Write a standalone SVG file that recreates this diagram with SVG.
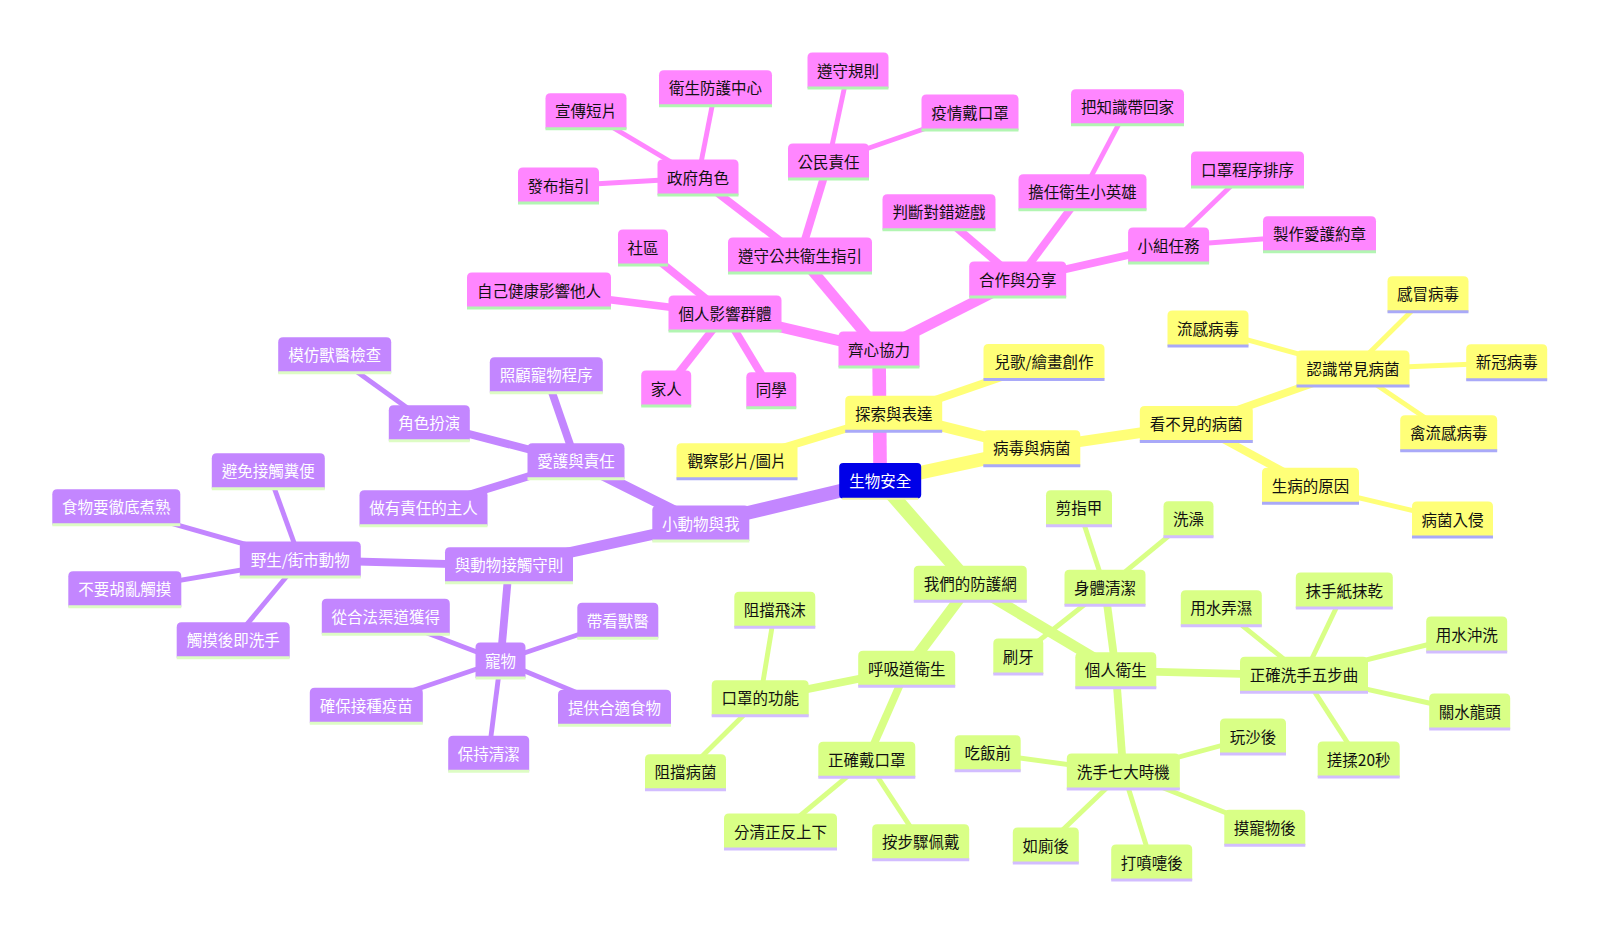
<svg xmlns="http://www.w3.org/2000/svg" width="1600" height="933" viewBox="0 0 1600 933">
<style>
.bg{fill:#ffffff}
#connectors line{fill:none;stroke-linecap:butt}
.e1{stroke-width:13.6}.e2{stroke-width:10.7}.e3{stroke-width:7.8}.e4{stroke-width:4.9}
.cp{stroke:#ff86ff}.cy{stroke:#ffff78}.cu{stroke:#c386ff}.cg{stroke:#d9ff86}
.node text{font-family:"Noto Sans CJK TC","Noto Sans CJK SC",sans-serif;font-size:15.5px;text-anchor:middle}
.node line{stroke-width:3}
.p path{fill:#ff86ff}.p line{stroke:#b2f5b2}.p text{fill:#111}
.y path{fill:#ffff78}.y line{stroke:#a9a9f8}.y text{fill:#111}
.u path{fill:#c386ff}.u line{stroke:#ddfcc4}.u text{fill:#ffffff}
.g path{fill:#d9ff86}.g line{stroke:#d2bdff}.g text{fill:#111}
.root rect{fill:#0000e8}.root line{stroke:#f2f2a8;stroke-width:2}.root text{fill:#ffffff}
</style>
<rect class="bg" x="0" y="0" width="1600" height="933"/>
<g id="connectors">
<line class="e1 cp" x1="880.2" y1="481.3" x2="879" y2="350"/>
<line class="e1 cy" x1="880.2" y1="481.3" x2="1031.8" y2="448.7"/>
<line class="e1 cu" x1="880.2" y1="481.3" x2="700.8" y2="524"/>
<line class="e1 cg" x1="880.2" y1="481.3" x2="970.3" y2="584.2"/>
<line class="e2 cp" x1="879" y1="350" x2="800" y2="256"/>
<line class="e2 cp" x1="879" y1="350" x2="725" y2="314"/>
<line class="e2 cp" x1="879" y1="350" x2="1017.7" y2="280"/>
<line class="e3 cp" x1="800" y1="256" x2="698" y2="178"/>
<line class="e3 cp" x1="800" y1="256" x2="828.5" y2="162"/>
<line class="e4 cp" x1="698" y1="178" x2="586" y2="111.7"/>
<line class="e4 cp" x1="698" y1="178" x2="715.5" y2="88.7"/>
<line class="e4 cp" x1="698" y1="178" x2="558.5" y2="186"/>
<line class="e4 cp" x1="828.5" y1="162" x2="848" y2="71"/>
<line class="e4 cp" x1="828.5" y1="162" x2="970" y2="113"/>
<line class="e3 cp" x1="725" y1="314" x2="643" y2="248"/>
<line class="e3 cp" x1="725" y1="314" x2="539" y2="291"/>
<line class="e3 cp" x1="725" y1="314" x2="666.2" y2="389"/>
<line class="e3 cp" x1="725" y1="314" x2="771.3" y2="390.8"/>
<line class="e3 cp" x1="1017.7" y1="280" x2="939" y2="212.7"/>
<line class="e3 cp" x1="1017.7" y1="280" x2="1082.5" y2="192.7"/>
<line class="e3 cp" x1="1017.7" y1="280" x2="1168.6" y2="246"/>
<line class="e4 cp" x1="1082.5" y1="192.7" x2="1127.5" y2="107.7"/>
<line class="e4 cp" x1="1168.6" y1="246" x2="1247.5" y2="170"/>
<line class="e4 cp" x1="1168.6" y1="246" x2="1319.5" y2="234.7"/>
<line class="e2 cy" x1="1031.8" y1="448.7" x2="893.7" y2="414.2"/>
<line class="e2 cy" x1="1031.8" y1="448.7" x2="1196.3" y2="424.5"/>
<line class="e3 cy" x1="893.7" y1="414.2" x2="1044" y2="362.5"/>
<line class="e3 cy" x1="893.7" y1="414.2" x2="737" y2="461.7"/>
<line class="e3 cy" x1="1196.3" y1="424.5" x2="1353" y2="369"/>
<line class="e3 cy" x1="1196.3" y1="424.5" x2="1310.5" y2="486.3"/>
<line class="e4 cy" x1="1353" y1="369" x2="1208" y2="329"/>
<line class="e4 cy" x1="1353" y1="369" x2="1428" y2="294.7"/>
<line class="e4 cy" x1="1353" y1="369" x2="1506.7" y2="362.7"/>
<line class="e4 cy" x1="1353" y1="369" x2="1448.7" y2="433.7"/>
<line class="e4 cy" x1="1310.5" y1="486.3" x2="1452.5" y2="520"/>
<line class="e2 cu" x1="700.8" y1="524" x2="576" y2="461.7"/>
<line class="e2 cu" x1="700.8" y1="524" x2="509" y2="565.7"/>
<line class="e3 cu" x1="576" y1="461.7" x2="429.3" y2="423.7"/>
<line class="e3 cu" x1="576" y1="461.7" x2="546.3" y2="375.7"/>
<line class="e3 cu" x1="576" y1="461.7" x2="423.5" y2="508.7"/>
<line class="e4 cu" x1="429.3" y1="423.7" x2="334.7" y2="355.7"/>
<line class="e3 cu" x1="509" y1="565.7" x2="300.3" y2="560"/>
<line class="e3 cu" x1="509" y1="565.7" x2="500.5" y2="661"/>
<line class="e4 cu" x1="300.3" y1="560" x2="268.3" y2="471.7"/>
<line class="e4 cu" x1="300.3" y1="560" x2="116.3" y2="507.7"/>
<line class="e4 cu" x1="300.3" y1="560" x2="124.8" y2="589.7"/>
<line class="e4 cu" x1="300.3" y1="560" x2="233.2" y2="640.8"/>
<line class="e4 cu" x1="500.5" y1="661" x2="385.8" y2="617.3"/>
<line class="e4 cu" x1="500.5" y1="661" x2="617.8" y2="621.3"/>
<line class="e4 cu" x1="500.5" y1="661" x2="366.3" y2="706.3"/>
<line class="e4 cu" x1="500.5" y1="661" x2="614.5" y2="708.3"/>
<line class="e4 cu" x1="500.5" y1="661" x2="488.7" y2="754.3"/>
<line class="e2 cg" x1="970.3" y1="584.2" x2="906.7" y2="669.2"/>
<line class="e2 cg" x1="970.3" y1="584.2" x2="1115.8" y2="670.8"/>
<line class="e3 cg" x1="906.7" y1="669.2" x2="760.2" y2="698.7"/>
<line class="e3 cg" x1="906.7" y1="669.2" x2="866.8" y2="760.3"/>
<line class="e4 cg" x1="760.2" y1="698.7" x2="774.8" y2="610.3"/>
<line class="e4 cg" x1="760.2" y1="698.7" x2="685.5" y2="772.7"/>
<line class="e4 cg" x1="866.8" y1="760.3" x2="780.5" y2="832"/>
<line class="e4 cg" x1="866.8" y1="760.3" x2="920.7" y2="842.7"/>
<line class="e3 cg" x1="1115.8" y1="670.8" x2="1105" y2="588.3"/>
<line class="e3 cg" x1="1115.8" y1="670.8" x2="1304" y2="675.3"/>
<line class="e3 cg" x1="1115.8" y1="670.8" x2="1123.3" y2="772"/>
<line class="e4 cg" x1="1105" y1="588.3" x2="1079" y2="508.7"/>
<line class="e4 cg" x1="1105" y1="588.3" x2="1188.5" y2="519.7"/>
<line class="e4 cg" x1="1105" y1="588.3" x2="1018.3" y2="657"/>
<line class="e4 cg" x1="1304" y1="675.3" x2="1221.3" y2="608.7"/>
<line class="e4 cg" x1="1304" y1="675.3" x2="1344.3" y2="591"/>
<line class="e4 cg" x1="1304" y1="675.3" x2="1466.7" y2="635"/>
<line class="e4 cg" x1="1304" y1="675.3" x2="1469.7" y2="712"/>
<line class="e4 cg" x1="1304" y1="675.3" x2="1358.7" y2="760"/>
<line class="e4 cg" x1="1123.3" y1="772" x2="987.7" y2="753.7"/>
<line class="e4 cg" x1="1123.3" y1="772" x2="1253" y2="737"/>
<line class="e4 cg" x1="1123.3" y1="772" x2="1264.8" y2="828.3"/>
<line class="e4 cg" x1="1123.3" y1="772" x2="1151.7" y2="863"/>
<line class="e4 cg" x1="1123.3" y1="772" x2="1045.8" y2="846"/>
</g>

<g id="n-root" class="node root" transform="translate(839.2,463)"><rect x="0" y="0" width="82" height="35.5" rx="4"/><line x1="3" y1="35.8" x2="79" y2="35.8"/><text x="41" y="24">生物安全</text></g>

<g id="n-qixin" class="node p" transform="translate(838.5,331.5)"><path d="M0,35.5V5Q0,0 5,0H76Q81,0 81,5V35.5Z"/><line x1="0" y1="35.5" x2="81" y2="35.5"/><text x="40.5" y="24">齊心協力</text></g>
<g id="n-zunshou" class="node p" transform="translate(728,237.5)"><path d="M0,35.5V5Q0,0 5,0H139Q144,0 144,5V35.5Z"/><line x1="0" y1="35.5" x2="144" y2="35.5"/><text x="72" y="24">遵守公共衛生指引</text></g>
<g id="n-zhengfu" class="node p" transform="translate(657.5,159.5)"><path d="M0,35.5V5Q0,0 5,0H76Q81,0 81,5V35.5Z"/><line x1="0" y1="35.5" x2="81" y2="35.5"/><text x="40.5" y="24">政府角色</text></g>
<g id="n-xuanchuan" class="node p" transform="translate(545.5,93.2)"><path d="M0,35.5V5Q0,0 5,0H76Q81,0 81,5V35.5Z"/><line x1="0" y1="35.5" x2="81" y2="35.5"/><text x="40.5" y="24">宣傳短片</text></g>
<g id="n-weisheng" class="node p" transform="translate(659,70.2)"><path d="M0,35.5V5Q0,0 5,0H108Q113,0 113,5V35.5Z"/><line x1="0" y1="35.5" x2="113" y2="35.5"/><text x="56.5" y="24">衛生防護中心</text></g>
<g id="n-fabu" class="node p" transform="translate(518,167.5)"><path d="M0,35.5V5Q0,0 5,0H76Q81,0 81,5V35.5Z"/><line x1="0" y1="35.5" x2="81" y2="35.5"/><text x="40.5" y="24">發布指引</text></g>
<g id="n-gongmin" class="node p" transform="translate(788,143.5)"><path d="M0,35.5V5Q0,0 5,0H76Q81,0 81,5V35.5Z"/><line x1="0" y1="35.5" x2="81" y2="35.5"/><text x="40.5" y="24">公民責任</text></g>
<g id="n-guize" class="node p" transform="translate(807.5,52.5)"><path d="M0,35.5V5Q0,0 5,0H76Q81,0 81,5V35.5Z"/><line x1="0" y1="35.5" x2="81" y2="35.5"/><text x="40.5" y="24">遵守規則</text></g>
<g id="n-yiqing" class="node p" transform="translate(921.5,94.5)"><path d="M0,35.5V5Q0,0 5,0H92Q97,0 97,5V35.5Z"/><line x1="0" y1="35.5" x2="97" y2="35.5"/><text x="48.5" y="24">疫情戴口罩</text></g>
<g id="n-geren" class="node p" transform="translate(668.5,295.5)"><path d="M0,35.5V5Q0,0 5,0H108Q113,0 113,5V35.5Z"/><line x1="0" y1="35.5" x2="113" y2="35.5"/><text x="56.5" y="24">個人影響群體</text></g>
<g id="n-shequ" class="node p" transform="translate(618,229.5)"><path d="M0,35.5V5Q0,0 5,0H45Q50,0 50,5V35.5Z"/><line x1="0" y1="35.5" x2="50" y2="35.5"/><text x="25" y="24">社區</text></g>
<g id="n-ziji" class="node p" transform="translate(467,272.5)"><path d="M0,35.5V5Q0,0 5,0H139Q144,0 144,5V35.5Z"/><line x1="0" y1="35.5" x2="144" y2="35.5"/><text x="72" y="24">自己健康影響他人</text></g>
<g id="n-jiaren" class="node p" transform="translate(641.2,370.5)"><path d="M0,35.5V5Q0,0 5,0H45Q50,0 50,5V35.5Z"/><line x1="0" y1="35.5" x2="50" y2="35.5"/><text x="25" y="24">家人</text></g>
<g id="n-tongxue" class="node p" transform="translate(746.3,372.3)"><path d="M0,35.5V5Q0,0 5,0H45Q50,0 50,5V35.5Z"/><line x1="0" y1="35.5" x2="50" y2="35.5"/><text x="25" y="24">同學</text></g>
<g id="n-hezuo" class="node p" transform="translate(969.2,261.5)"><path d="M0,35.5V5Q0,0 5,0H92Q97,0 97,5V35.5Z"/><line x1="0" y1="35.5" x2="97" y2="35.5"/><text x="48.5" y="24">合作與分享</text></g>
<g id="n-panduan" class="node p" transform="translate(882.5,194.2)"><path d="M0,35.5V5Q0,0 5,0H108Q113,0 113,5V35.5Z"/><line x1="0" y1="35.5" x2="113" y2="35.5"/><text x="56.5" y="24">判斷對錯遊戲</text></g>
<g id="n-danren" class="node p" transform="translate(1018.5,174.2)"><path d="M0,35.5V5Q0,0 5,0H123Q128,0 128,5V35.5Z"/><line x1="0" y1="35.5" x2="128" y2="35.5"/><text x="64" y="24">擔任衛生小英雄</text></g>
<g id="n-zhishi" class="node p" transform="translate(1071,89.2)"><path d="M0,35.5V5Q0,0 5,0H108Q113,0 113,5V35.5Z"/><line x1="0" y1="35.5" x2="113" y2="35.5"/><text x="56.5" y="24">把知識帶回家</text></g>
<g id="n-xiaozu" class="node p" transform="translate(1128.1,227.5)"><path d="M0,35.5V5Q0,0 5,0H76Q81,0 81,5V35.5Z"/><line x1="0" y1="35.5" x2="81" y2="35.5"/><text x="40.5" y="24">小組任務</text></g>
<g id="n-kouzhao" class="node p" transform="translate(1191,151.5)"><path d="M0,35.5V5Q0,0 5,0H108Q113,0 113,5V35.5Z"/><line x1="0" y1="35.5" x2="113" y2="35.5"/><text x="56.5" y="24">口罩程序排序</text></g>
<g id="n-yuezhang" class="node p" transform="translate(1263,216.2)"><path d="M0,35.5V5Q0,0 5,0H108Q113,0 113,5V35.5Z"/><line x1="0" y1="35.5" x2="113" y2="35.5"/><text x="56.5" y="24">製作愛護約章</text></g>

<g id="n-bingdu" class="node y" transform="translate(983.3,430.2)"><path d="M0,35.5V5Q0,0 5,0H92Q97,0 97,5V35.5Z"/><line x1="0" y1="35.5" x2="97" y2="35.5"/><text x="48.5" y="24">病毒與病菌</text></g>
<g id="n-tansuo" class="node y" transform="translate(845.2,395.7)"><path d="M0,35.5V5Q0,0 5,0H92Q97,0 97,5V35.5Z"/><line x1="0" y1="35.5" x2="97" y2="35.5"/><text x="48.5" y="24">探索與表達</text></g>
<g id="n-erge" class="node y" transform="translate(983.5,344)"><path d="M0,35.5V5Q0,0 5,0H116Q121,0 121,5V35.5Z"/><line x1="0" y1="35.5" x2="121" y2="35.5"/><text x="60.5" y="24">兒歌/繪畫創作</text></g>
<g id="n-guancha" class="node y" transform="translate(676.5,443.2)"><path d="M0,35.5V5Q0,0 5,0H116Q121,0 121,5V35.5Z"/><line x1="0" y1="35.5" x2="121" y2="35.5"/><text x="60.5" y="24">觀察影片/圖片</text></g>
<g id="n-kanbujian" class="node y" transform="translate(1139.8,406)"><path d="M0,35.5V5Q0,0 5,0H108Q113,0 113,5V35.5Z"/><line x1="0" y1="35.5" x2="113" y2="35.5"/><text x="56.5" y="24">看不見的病菌</text></g>
<g id="n-renshi" class="node y" transform="translate(1296.5,350.5)"><path d="M0,35.5V5Q0,0 5,0H108Q113,0 113,5V35.5Z"/><line x1="0" y1="35.5" x2="113" y2="35.5"/><text x="56.5" y="24">認識常見病菌</text></g>
<g id="n-liugan" class="node y" transform="translate(1167.5,310.5)"><path d="M0,35.5V5Q0,0 5,0H76Q81,0 81,5V35.5Z"/><line x1="0" y1="35.5" x2="81" y2="35.5"/><text x="40.5" y="24">流感病毒</text></g>
<g id="n-ganmao" class="node y" transform="translate(1387.5,276.2)"><path d="M0,35.5V5Q0,0 5,0H76Q81,0 81,5V35.5Z"/><line x1="0" y1="35.5" x2="81" y2="35.5"/><text x="40.5" y="24">感冒病毒</text></g>
<g id="n-xinguan" class="node y" transform="translate(1466.2,344.2)"><path d="M0,35.5V5Q0,0 5,0H76Q81,0 81,5V35.5Z"/><line x1="0" y1="35.5" x2="81" y2="35.5"/><text x="40.5" y="24">新冠病毒</text></g>
<g id="n-qinliugan" class="node y" transform="translate(1400.2,415.2)"><path d="M0,35.5V5Q0,0 5,0H92Q97,0 97,5V35.5Z"/><line x1="0" y1="35.5" x2="97" y2="35.5"/><text x="48.5" y="24">禽流感病毒</text></g>
<g id="n-shengbing" class="node y" transform="translate(1262,467.8)"><path d="M0,35.5V5Q0,0 5,0H92Q97,0 97,5V35.5Z"/><line x1="0" y1="35.5" x2="97" y2="35.5"/><text x="48.5" y="24">生病的原因</text></g>
<g id="n-rujin" class="node y" transform="translate(1412,501.5)"><path d="M0,35.5V5Q0,0 5,0H76Q81,0 81,5V35.5Z"/><line x1="0" y1="35.5" x2="81" y2="35.5"/><text x="40.5" y="24">病菌入侵</text></g>

<g id="n-xiaodongwu" class="node u" transform="translate(652.3,505.5)"><path d="M0,35.5V5Q0,0 5,0H92Q97,0 97,5V35.5Z"/><line x1="0" y1="35.5" x2="97" y2="35.5"/><text x="48.5" y="24">小動物與我</text></g>
<g id="n-aihu" class="node u" transform="translate(527.5,443.2)"><path d="M0,35.5V5Q0,0 5,0H92Q97,0 97,5V35.5Z"/><line x1="0" y1="35.5" x2="97" y2="35.5"/><text x="48.5" y="24">愛護與責任</text></g>
<g id="n-juese" class="node u" transform="translate(388.8,405.2)"><path d="M0,35.5V5Q0,0 5,0H76Q81,0 81,5V35.5Z"/><line x1="0" y1="35.5" x2="81" y2="35.5"/><text x="40.5" y="24">角色扮演</text></g>
<g id="n-mofang" class="node u" transform="translate(278.2,337.2)"><path d="M0,35.5V5Q0,0 5,0H108Q113,0 113,5V35.5Z"/><line x1="0" y1="35.5" x2="113" y2="35.5"/><text x="56.5" y="24">模仿獸醫檢查</text></g>
<g id="n-zhaogu" class="node u" transform="translate(489.8,357.2)"><path d="M0,35.5V5Q0,0 5,0H108Q113,0 113,5V35.5Z"/><line x1="0" y1="35.5" x2="113" y2="35.5"/><text x="56.5" y="24">照顧寵物程序</text></g>
<g id="n-zuoyou" class="node u" transform="translate(359.5,490.2)"><path d="M0,35.5V5Q0,0 5,0H123Q128,0 128,5V35.5Z"/><line x1="0" y1="35.5" x2="128" y2="35.5"/><text x="64" y="24">做有責任的主人</text></g>
<g id="n-jiechu" class="node u" transform="translate(445,547.2)"><path d="M0,35.5V5Q0,0 5,0H123Q128,0 128,5V35.5Z"/><line x1="0" y1="35.5" x2="128" y2="35.5"/><text x="64" y="24">與動物接觸守則</text></g>
<g id="n-yesheng" class="node u" transform="translate(239.8,541.5)"><path d="M0,35.5V5Q0,0 5,0H116Q121,0 121,5V35.5Z"/><line x1="0" y1="35.5" x2="121" y2="35.5"/><text x="60.5" y="24">野生/街市動物</text></g>
<g id="n-bimian" class="node u" transform="translate(211.8,453.2)"><path d="M0,35.5V5Q0,0 5,0H108Q113,0 113,5V35.5Z"/><line x1="0" y1="35.5" x2="113" y2="35.5"/><text x="56.5" y="24">避免接觸糞便</text></g>
<g id="n-shiwu" class="node u" transform="translate(52.3,489.2)"><path d="M0,35.5V5Q0,0 5,0H123Q128,0 128,5V35.5Z"/><line x1="0" y1="35.5" x2="128" y2="35.5"/><text x="64" y="24">食物要徹底煮熟</text></g>
<g id="n-buyao" class="node u" transform="translate(68.3,571.2)"><path d="M0,35.5V5Q0,0 5,0H108Q113,0 113,5V35.5Z"/><line x1="0" y1="35.5" x2="113" y2="35.5"/><text x="56.5" y="24">不要胡亂觸摸</text></g>
<g id="n-chumo" class="node u" transform="translate(176.7,622.3)"><path d="M0,35.5V5Q0,0 5,0H108Q113,0 113,5V35.5Z"/><line x1="0" y1="35.5" x2="113" y2="35.5"/><text x="56.5" y="24">觸摸後即洗手</text></g>
<g id="n-chongwu" class="node u" transform="translate(475.5,642.5)"><path d="M0,35.5V5Q0,0 5,0H45Q50,0 50,5V35.5Z"/><line x1="0" y1="35.5" x2="50" y2="35.5"/><text x="25" y="24">寵物</text></g>
<g id="n-hefa" class="node u" transform="translate(321.8,598.8)"><path d="M0,35.5V5Q0,0 5,0H123Q128,0 128,5V35.5Z"/><line x1="0" y1="35.5" x2="128" y2="35.5"/><text x="64" y="24">從合法渠道獲得</text></g>
<g id="n-daikan" class="node u" transform="translate(577.3,602.8)"><path d="M0,35.5V5Q0,0 5,0H76Q81,0 81,5V35.5Z"/><line x1="0" y1="35.5" x2="81" y2="35.5"/><text x="40.5" y="24">帶看獸醫</text></g>
<g id="n-jiezhong" class="node u" transform="translate(309.8,687.8)"><path d="M0,35.5V5Q0,0 5,0H108Q113,0 113,5V35.5Z"/><line x1="0" y1="35.5" x2="113" y2="35.5"/><text x="56.5" y="24">確保接種疫苗</text></g>
<g id="n-tigong" class="node u" transform="translate(558,689.8)"><path d="M0,35.5V5Q0,0 5,0H108Q113,0 113,5V35.5Z"/><line x1="0" y1="35.5" x2="113" y2="35.5"/><text x="56.5" y="24">提供合適食物</text></g>
<g id="n-baochi" class="node u" transform="translate(448.2,735.8)"><path d="M0,35.5V5Q0,0 5,0H76Q81,0 81,5V35.5Z"/><line x1="0" y1="35.5" x2="81" y2="35.5"/><text x="40.5" y="24">保持清潔</text></g>

<g id="n-fanghu" class="node g" transform="translate(913.8,565.7)"><path d="M0,35.5V5Q0,0 5,0H108Q113,0 113,5V35.5Z"/><line x1="0" y1="35.5" x2="113" y2="35.5"/><text x="56.5" y="24">我們的防護網</text></g>
<g id="n-huxi" class="node g" transform="translate(858.2,650.7)"><path d="M0,35.5V5Q0,0 5,0H92Q97,0 97,5V35.5Z"/><line x1="0" y1="35.5" x2="97" y2="35.5"/><text x="48.5" y="24">呼吸道衛生</text></g>
<g id="n-gongneng" class="node g" transform="translate(711.7,680.2)"><path d="M0,35.5V5Q0,0 5,0H92Q97,0 97,5V35.5Z"/><line x1="0" y1="35.5" x2="97" y2="35.5"/><text x="48.5" y="24">口罩的功能</text></g>
<g id="n-feimo" class="node g" transform="translate(734.3,591.8)"><path d="M0,35.5V5Q0,0 5,0H76Q81,0 81,5V35.5Z"/><line x1="0" y1="35.5" x2="81" y2="35.5"/><text x="40.5" y="24">阻擋飛沫</text></g>
<g id="n-zudang" class="node g" transform="translate(645,754.2)"><path d="M0,35.5V5Q0,0 5,0H76Q81,0 81,5V35.5Z"/><line x1="0" y1="35.5" x2="81" y2="35.5"/><text x="40.5" y="24">阻擋病菌</text></g>
<g id="n-daikouzhao" class="node g" transform="translate(818.3,741.8)"><path d="M0,35.5V5Q0,0 5,0H92Q97,0 97,5V35.5Z"/><line x1="0" y1="35.5" x2="97" y2="35.5"/><text x="48.5" y="24">正確戴口罩</text></g>
<g id="n-fenqing" class="node g" transform="translate(724,813.5)"><path d="M0,35.5V5Q0,0 5,0H108Q113,0 113,5V35.5Z"/><line x1="0" y1="35.5" x2="113" y2="35.5"/><text x="56.5" y="24">分清正反上下</text></g>
<g id="n-anbuzhou" class="node g" transform="translate(872.2,824.2)"><path d="M0,35.5V5Q0,0 5,0H92Q97,0 97,5V35.5Z"/><line x1="0" y1="35.5" x2="97" y2="35.5"/><text x="48.5" y="24">按步驟佩戴</text></g>
<g id="n-gerenweisheng" class="node g" transform="translate(1075.3,652.3)"><path d="M0,35.5V5Q0,0 5,0H76Q81,0 81,5V35.5Z"/><line x1="0" y1="35.5" x2="81" y2="35.5"/><text x="40.5" y="24">個人衛生</text></g>
<g id="n-shenti" class="node g" transform="translate(1064.5,569.8)"><path d="M0,35.5V5Q0,0 5,0H76Q81,0 81,5V35.5Z"/><line x1="0" y1="35.5" x2="81" y2="35.5"/><text x="40.5" y="24">身體清潔</text></g>
<g id="n-jianzhijia" class="node g" transform="translate(1046,490.2)"><path d="M0,35.5V5Q0,0 5,0H61Q66,0 66,5V35.5Z"/><line x1="0" y1="35.5" x2="66" y2="35.5"/><text x="33" y="24">剪指甲</text></g>
<g id="n-xizao" class="node g" transform="translate(1163.5,501.2)"><path d="M0,35.5V5Q0,0 5,0H45Q50,0 50,5V35.5Z"/><line x1="0" y1="35.5" x2="50" y2="35.5"/><text x="25" y="24">洗澡</text></g>
<g id="n-shuaya" class="node g" transform="translate(993.3,638.5)"><path d="M0,35.5V5Q0,0 5,0H45Q50,0 50,5V35.5Z"/><line x1="0" y1="35.5" x2="50" y2="35.5"/><text x="25" y="24">刷牙</text></g>
<g id="n-wubu" class="node g" transform="translate(1240,656.8)"><path d="M0,35.5V5Q0,0 5,0H123Q128,0 128,5V35.5Z"/><line x1="0" y1="35.5" x2="128" y2="35.5"/><text x="64" y="24">正確洗手五步曲</text></g>
<g id="n-nongshi" class="node g" transform="translate(1180.8,590.2)"><path d="M0,35.5V5Q0,0 5,0H76Q81,0 81,5V35.5Z"/><line x1="0" y1="35.5" x2="81" y2="35.5"/><text x="40.5" y="24">用水弄濕</text></g>
<g id="n-mogan" class="node g" transform="translate(1295.8,572.5)"><path d="M0,35.5V5Q0,0 5,0H92Q97,0 97,5V35.5Z"/><line x1="0" y1="35.5" x2="97" y2="35.5"/><text x="48.5" y="24">抹手紙抹乾</text></g>
<g id="n-chongxi" class="node g" transform="translate(1426.2,616.5)"><path d="M0,35.5V5Q0,0 5,0H76Q81,0 81,5V35.5Z"/><line x1="0" y1="35.5" x2="81" y2="35.5"/><text x="40.5" y="24">用水沖洗</text></g>
<g id="n-guanshui" class="node g" transform="translate(1429.2,693.5)"><path d="M0,35.5V5Q0,0 5,0H76Q81,0 81,5V35.5Z"/><line x1="0" y1="35.5" x2="81" y2="35.5"/><text x="40.5" y="24">關水龍頭</text></g>
<g id="n-cuorou" class="node g" transform="translate(1317.7,741.5)"><path d="M0,35.5V5Q0,0 5,0H77Q82,0 82,5V35.5Z"/><line x1="0" y1="35.5" x2="82" y2="35.5"/><text x="41" y="24">搓揉20秒</text></g>
<g id="n-qida" class="node g" transform="translate(1066.8,753.5)"><path d="M0,35.5V5Q0,0 5,0H108Q113,0 113,5V35.5Z"/><line x1="0" y1="35.5" x2="113" y2="35.5"/><text x="56.5" y="24">洗手七大時機</text></g>
<g id="n-chifan" class="node g" transform="translate(954.7,735.2)"><path d="M0,35.5V5Q0,0 5,0H61Q66,0 66,5V35.5Z"/><line x1="0" y1="35.5" x2="66" y2="35.5"/><text x="33" y="24">吃飯前</text></g>
<g id="n-wansha" class="node g" transform="translate(1220,718.5)"><path d="M0,35.5V5Q0,0 5,0H61Q66,0 66,5V35.5Z"/><line x1="0" y1="35.5" x2="66" y2="35.5"/><text x="33" y="24">玩沙後</text></g>
<g id="n-mochongwu" class="node g" transform="translate(1224.3,809.8)"><path d="M0,35.5V5Q0,0 5,0H76Q81,0 81,5V35.5Z"/><line x1="0" y1="35.5" x2="81" y2="35.5"/><text x="40.5" y="24">摸寵物後</text></g>
<g id="n-penti" class="node g" transform="translate(1111.2,844.5)"><path d="M0,35.5V5Q0,0 5,0H76Q81,0 81,5V35.5Z"/><line x1="0" y1="35.5" x2="81" y2="35.5"/><text x="40.5" y="24">打噴嚏後</text></g>
<g id="n-ruce" class="node g" transform="translate(1012.8,827.5)"><path d="M0,35.5V5Q0,0 5,0H61Q66,0 66,5V35.5Z"/><line x1="0" y1="35.5" x2="66" y2="35.5"/><text x="33" y="24">如廁後</text></g>
</svg>
